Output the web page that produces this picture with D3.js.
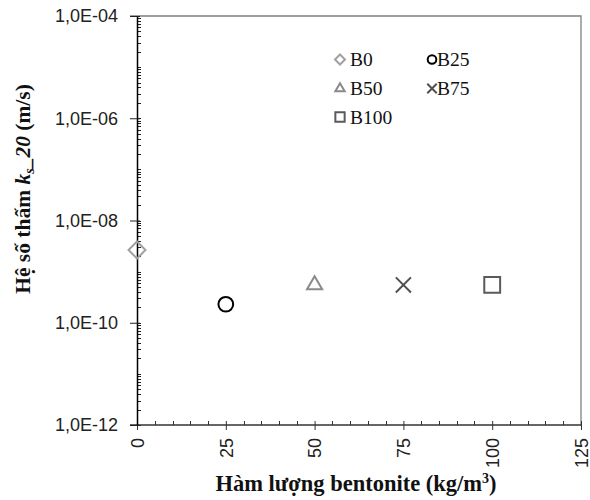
<!DOCTYPE html>
<html>
<head>
<meta charset="utf-8">
<script src="https://cdn.jsdelivr.net/npm/d3@7"></script>
<style>
  body { margin: 0; background: #fff; }
  svg { display: block; }
</style>
</head>
<body>
<div id="chart"></div>
<script>
const kSvgWidth = 590;
const kSvgHeight = 500;

// data
const seriesNames = ["B0", "B25", "B50", "B75", "B100"];
const bentonite = [0, 25, 50, 75, 100];
const ks20 = [2.65e-9, 2.3e-10, 5.5e-10, 5.5e-10, 5.5e-10];
const xTicks = [0, 25, 50, 75, 100, 125];
const yTicks = [1e-12, 1e-10, 1e-8, 1e-6, 1e-4];
const yTickLabels = ["1,0E-12", "1,0E-10", "1,0E-08", "1,0E-06", "1,0E-04"];

const markerShapes = [d3.symbolDiamond2, d3.symbolCircle, d3.symbolTriangle2, d3.symbolTimes, d3.symbolSquare2];
const markerSizes = [184, 170, 165, 150, 320];
const legendSizes = [64, 58, 62, 60, 110];
const markerColors = ["#a0a0a0", "#000000", "#8a8a8a", "#505050", "#5a5a5a"];

function createSvg()
{
  return d3.select("#chart")
    .append("svg")
    .attr("width", kSvgWidth)
    .attr("height", kSvgHeight);
}

function drawChart(svg)
{
  const xScale = d3.scaleLinear()
    .domain([0, 125])
    .range([137, 581]);

  const yScale = d3.scaleLog()
    .domain([1e-12, 1e-4])
    .range([425, 16]);

  const x0 = xScale.range()[0], x1 = xScale.range()[1];
  const y0 = yScale.range()[0], y1 = yScale.range()[1];

  // top and right frame
  svg.append("path")
    .attr("d", `M${x0 - 7},${y1}H${x1}V${y0}`)
    .attr("fill", "none")
    .attr("stroke", "#808080")
    .attr("stroke-width", 1.3);

  // y minor ticks (inside)
  const minor = [];
  for (let e = -12; e < -4; e++) {
    for (let m = 1; m <= 9; m++) minor.push(m * Math.pow(10, e));
  }
  svg.append("g")
    .selectAll("line")
    .data(minor)
    .enter()
    .append("line")
    .attr("x1", x0)
    .attr("x2", x0 + 4)
    .attr("y1", d => Math.round(yScale(d)) + 0.5)
    .attr("y2", d => Math.round(yScale(d)) + 0.5)
    .attr("stroke", "#222");

  // x minor ticks (inside)
  svg.append("g")
    .selectAll("line")
    .data(d3.range(5, 125, 5).filter(d => d % 25 !== 0))
    .enter()
    .append("line")
    .attr("x1", d => Math.round(xScale(d)) + 0.5)
    .attr("x2", d => Math.round(xScale(d)) + 0.5)
    .attr("y1", y0)
    .attr("y2", y0 - 4)
    .attr("stroke", "#333");

  const xAxis = d3.axisBottom(xScale)
    .tickValues(xTicks)
    .tickSize(5)
    .tickSizeOuter(0)
    .tickPadding(0);

  const gx = svg.append("g")
    .attr("transform", `translate(0, ${y0})`)
    .call(xAxis);
  gx.select(".domain").remove();
  gx.append("line")
    .attr("x1", x0 - 7).attr("x2", x1)
    .attr("y1", 0).attr("y2", 0)
    .attr("stroke", "#333").attr("stroke-width", 1.3);
  gx.selectAll(".tick line")
    .attr("y1", -4)
    .attr("stroke", "#333");
  gx.selectAll(".tick text")
    .attr("transform", "rotate(-90)")
    .attr("x", -13)
    .attr("y", 0)
    .attr("dy", "0.35em")
    .attr("text-anchor", "end")
    .attr("fill", "#222")
    .style("font-family", "'Liberation Sans', Arial, sans-serif")
    .style("font-size", "18px");

  const yAxis = d3.axisLeft(yScale)
    .tickValues(yTicks)
    .tickFormat((d, i) => yTickLabels[i])
    .tickSize(7)
    .tickSizeOuter(0)
    .tickPadding(12);

  const gy = svg.append("g")
    .attr("transform", `translate(${x0}, 0)`)
    .call(yAxis);
  gy.select(".domain")
    .attr("stroke", "#000")
    .attr("stroke-width", 1.5);
  gy.selectAll(".tick line")
    .attr("x2", -7)
    .attr("x1", 3)
    .attr("stroke", "#222");
  gy.selectAll(".tick text")
    .attr("fill", "#222")
    .style("font-family", "'Liberation Sans', Arial, sans-serif")
    .style("font-size", "18px");

  // points
  svg.append("g")
    .selectAll("path")
    .data(seriesNames)
    .enter()
    .append("path")
    .attr("d", (d, i) => d3.symbol(markerShapes[i], markerSizes[i])())
    .attr("transform", (d, i) => `translate(${xScale(bentonite[i])}, ${yScale(ks20[i])})`)
    .attr("fill", "none")
    .attr("stroke", (d, i) => markerColors[i])
    .attr("stroke-width", 2);

  // legend
  const legendX = [340, 432];
  const legendY = [59.5, 88.5, 117];
  const legend = svg.append("g")
    .selectAll("g")
    .data(seriesNames)
    .enter()
    .append("g")
    .attr("transform", (d, i) => `translate(${legendX[i % 2]}, ${legendY[Math.floor(i / 2)]})`);
  legend.append("path")
    .attr("d", (d, i) => d3.symbol(markerShapes[i], legendSizes[i])())
    .attr("fill", "none")
    .attr("stroke", (d, i) => markerColors[i])
    .attr("stroke-width", 2);
  legend.append("text")
    .attr("x", (d, i) => i % 2 ? 5 : 10)
    .attr("y", 6.5)
    .text(d => d)
    .style("font-family", "'Liberation Serif', 'Times New Roman', serif")
    .style("font-size", "19.5px")
    .attr("fill", "#111");

  // axis titles
  const xt = svg.append("text")
    .attr("x", 356)
    .attr("y", 491)
    .attr("text-anchor", "middle")
    .style("font-family", "'Liberation Serif', 'Times New Roman', serif")
    .style("font-size", "22.5px")
    .style("font-weight", "bold")
    .attr("fill", "#111");
  xt.append("tspan").text("Hàm lượng bentonite (kg/m");
  xt.append("tspan").attr("dy", -8).style("font-size", "14px").text("3");
  xt.append("tspan").attr("dy", 8).text(")");

  const yt = svg.append("text")
    .attr("transform", "translate(30, 189) rotate(-90)")
    .attr("text-anchor", "middle")
    .style("font-family", "'Liberation Serif', 'Times New Roman', serif")
    .style("font-size", "21.5px")
    .style("font-weight", "bold")
    .attr("fill", "#111");
  yt.append("tspan").text("Hệ số thấm ");
  yt.append("tspan").style("font-style", "italic").text("k");
  yt.append("tspan").style("font-style", "italic").style("font-size", "14px").attr("dy", 4).text("s");
  yt.append("tspan").style("font-style", "italic").attr("dy", -4).text("_20");
  yt.append("tspan").text(" (m/s)");
}

document.addEventListener("DOMContentLoaded", () => {
  const svg = createSvg();
  drawChart(svg);
});
</script>
</body>
</html>
